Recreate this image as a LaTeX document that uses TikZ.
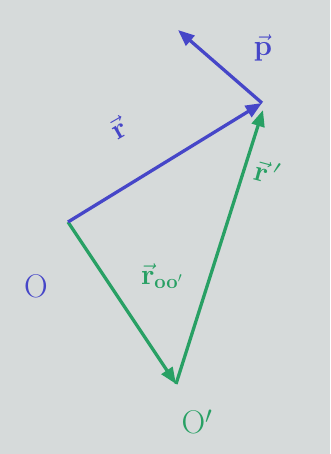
\documentclass[tikz,border=0pt]{standalone}
\usepackage{amsmath}
\usetikzlibrary{arrows.meta}
\definecolor{penblue}{RGB}{70,70,200}
\definecolor{pengreen}{RGB}{40,160,100}
\definecolor{paper}{RGB}{214,218,218}
\begin{document}
\begin{tikzpicture}[x=0.03cm,y=-0.03cm,
  vec/.style={line width=2.8pt,-{Triangle[length=14pt,width=11pt]}},
  lbl/.style={font=\fontsize{28}{30}\selectfont},
  sml/.style={font=\fontsize{26}{28}\selectfont}]
\fill[paper] (0,0) rectangle (330,454);
\useasboundingbox (0,0) rectangle (330,454);
\coordinate (O) at (68,222);
\coordinate (Op) at (176,384);
\coordinate (T) at (262,103);
\coordinate (Tg) at (263,110);
\coordinate (P) at (178,30);
\draw[vec,pengreen] (O) -- (Op);
\draw[vec,pengreen] (Op) -- (Tg);
\draw[vec,penblue] (O) -- (T);
\draw[vec,penblue] (T) -- (P);
\node[lbl,text=penblue] (lO) at (36,286) {O};
\node[lbl,text=pengreen] (lOp) at (197,422) {O$'$};
\node[sml,text=penblue] (lp) at (263,48) {$\vec{\mathbf p}$};
\node[sml,text=penblue,rotate=30] (lr) at (118,128) {$\vec{\mathbf r}$};
\node[sml,text=pengreen] (lroo) at (162,276) {$\vec{\mathbf r}_{\mathbf{oo'}}$};
\node[sml,text=pengreen,rotate=-15] (lrp) at (267,172) {$\vec{\mathbf r}\,'$};
\end{tikzpicture}
\end{document}
